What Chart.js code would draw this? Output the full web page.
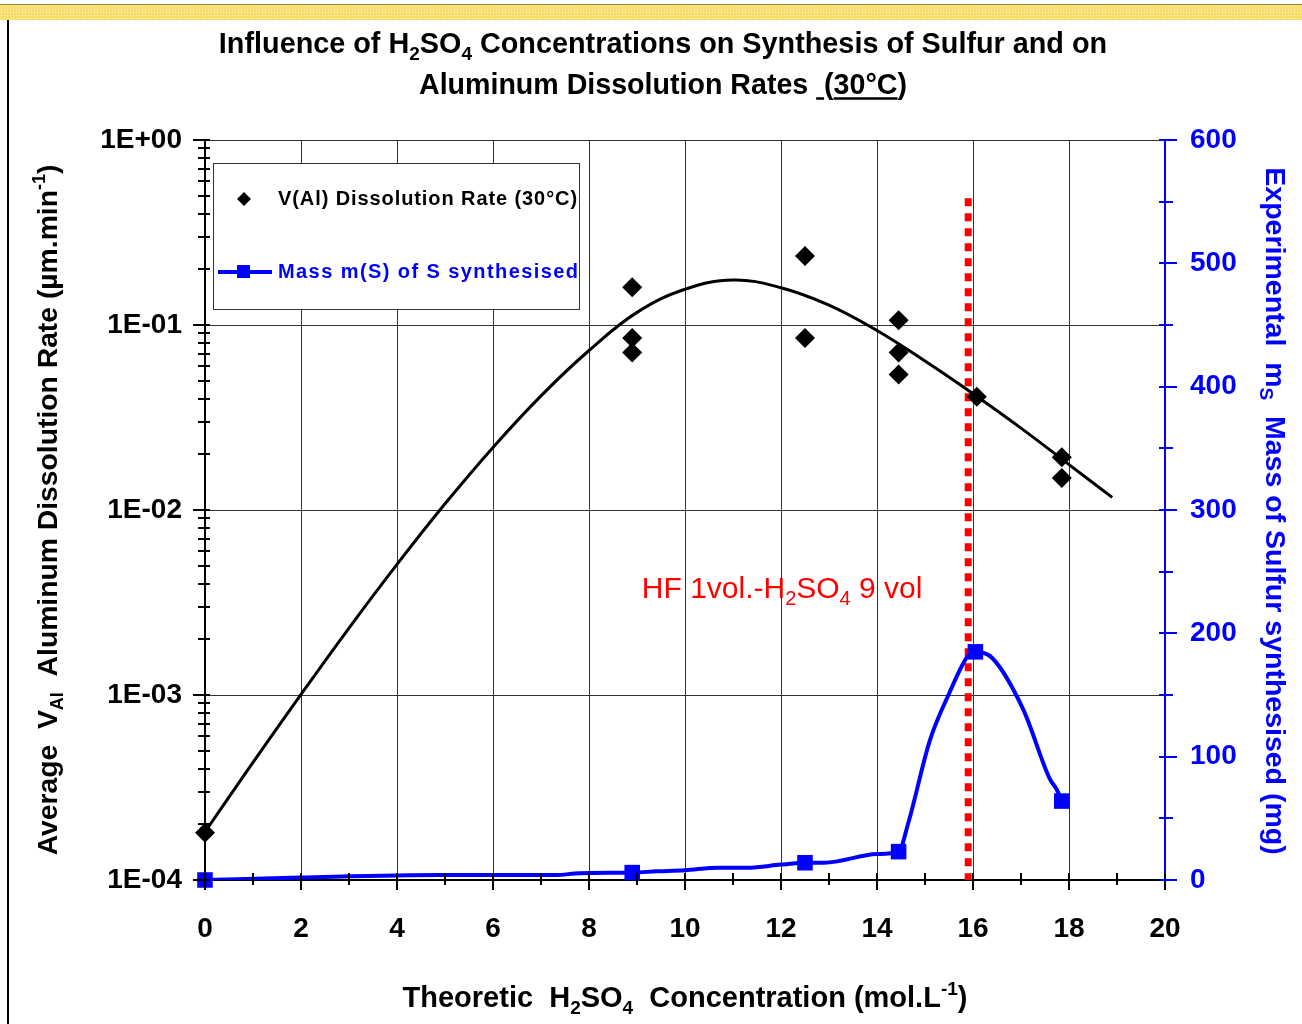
<!DOCTYPE html>
<html>
<head>
<meta charset="utf-8">
<title>H2SO4 concentration vs Al dissolution and S synthesis</title>
<script src="https://cdn.jsdelivr.net/npm/chart.js@4.4.1/dist/chart.umd.min.js"></script>
<style>
  html, body { margin: 0; padding: 0; background: #fff; }
  #wrap { position: relative; width: 1302px; height: 1024px; overflow: hidden; }
  #band { position: absolute; left: 0; top: 4px; width: 1302px; height: 15px; border-top: 1px solid #9a8a3a;
          background-color: #f6da66; background-image: radial-gradient(#fff0a8 0.8px, transparent 1.1px); background-size: 3px 3px; }
  #edge { position: absolute; left: 7px; top: 20px; width: 2px; height: 1004px; background: #000; }
  canvas { position: absolute; left: 0; top: 0; }
</style>
</head>
<body>
<div id="wrap">
  <div id="band"></div>
  <div id="edge"></div>
  <canvas id="chart" width="1302" height="1024"></canvas>
</div>
<script>
const FONT = "'Liberation Sans', Arial, sans-serif";

// measured Al dissolution rates (um/min), left log axis
const rateX = [0, 8.9, 8.9, 8.9, 12.5, 12.5, 14.45, 14.45, 14.45, 16.08, 17.85, 17.85];
const rateY = [1.8e-4, 0.16, 0.085, 0.071, 0.236, 0.085, 0.106, 0.071, 0.054, 0.041, 0.0193, 0.0149];

// trend curve through the rates
const fitX = [0, 1, 2, 3, 4, 5, 6, 7, 8, 9, 10, 11, 12, 13, 14, 15, 16, 17, 18, 18.9];
const fitY = [1.82e-4, 4.32e-4, 1.007e-3, 2.30e-3, 5.08e-3, 0.0108, 0.0218, 0.0414, 0.0728, 0.117,
              0.156, 0.175, 0.159, 0.128, 0.0933, 0.0638, 0.0425, 0.0277, 0.0176, 0.0117];

// mass of sulfur synthesised (mg), right axis
const massX = [0, 8.9, 12.5, 14.45, 16.05, 17.85];
const massY = [0, 6, 14, 23, 185, 64];

// the smoothed blue line has more points than the markers
const massLineX = [0, 2, 4.9, 7.3, 7.8, 8.9, 9.4, 10.0, 10.7, 11.3, 12.0, 12.5, 12.9, 14.0, 14.45,
                   14.65, 15.1, 15.5, 15.9, 16.05, 16.4, 17.05, 17.6, 17.75, 17.85];
const massLineY = [0, 2, 4, 4, 5.5, 6, 7, 8, 10, 10, 12.5, 14, 14, 21, 23,
                   46, 113, 151, 182, 185, 180, 138, 82, 73, 64];

// HF 1 vol - H2SO4 9 vol marker
const hfX = [15.9, 15.9];
const hfY = [0.485, 1e-4];

const xTicks = [0, 2, 4, 6, 8, 10, 12, 14, 16, 18, 20];

const toPts = (xs, ys) => xs.map((x, i) => ({ x: x, y: ys[i] }));
const isDecade = v => Math.abs(Math.log10(v) - Math.round(Math.log10(v))) < 1e-6;
const intMantissa = v => {
  const m = v / Math.pow(10, Math.floor(Math.log10(v) + 1e-9));
  return Math.abs(m - Math.round(m)) < 1e-6;
};
const sciLabel = v => {
  const e = Math.round(Math.log10(v));
  return '1E' + (e < 0 ? '-' : '+') + String(Math.abs(e)).padStart(2, '0');
};

// text with sub/superscripts, y is the middle of the capitals
function richText(ctx, parts, x, y, o) {
  const size = o.size, weight = o.weight || 'bold';
  const fontFor = k => weight + ' ' + (k === 'sub' || k === 'sup' ? Math.round(size * 0.65) : size) + 'px ' + FONT;
  let total = 0;
  parts.forEach(([t, k]) => { ctx.font = fontFor(k); total += ctx.measureText(t).width; });
  let cx = o.align === 'center' ? x - total / 2 : (o.align === 'right' ? x - total : x);
  const base = y + size * 0.358;
  ctx.textAlign = 'left';
  ctx.textBaseline = 'alphabetic';
  ctx.fillStyle = o.color;
  parts.forEach(([t, k]) => {
    ctx.font = fontFor(k);
    const dy = k === 'sub' ? size * 0.22 : (k === 'sup' ? -size * 0.42 : 0);
    ctx.fillText(t, cx, base + dy);
    const w = ctx.measureText(t).width;
    if (k === 'u') ctx.fillRect(cx, base + 3, w, 2.5);
    cx += w;
  });
}

function seg(ctx, x1, y1, x2, y2) {
  ctx.beginPath();
  ctx.moveTo(x1, y1);
  ctx.lineTo(x2, y2);
  ctx.stroke();
}

const decorations = {
  id: 'decorations',
  afterDraw(chart) {
    const ctx = chart.ctx;
    const { x, y, y2 } = chart.scales;
    ctx.save();

    // tick marks
    ctx.lineWidth = 2;
    ctx.strokeStyle = '#000';
    x.ticks.forEach(t => {
      const px = Math.round(x.getPixelForValue(t.value));
      if (t.value % 2 === 0) seg(ctx, px, x.top - 7, px, x.top + 10);
      else seg(ctx, px, x.top - 7, px, x.top + 5);
    });
    y.ticks.forEach(t => {
      const py = Math.round(y.getPixelForValue(t.value));
      seg(ctx, y.right - (isDecade(t.value) ? 12 : 7), py, y.right + 5, py);
    });
    ctx.strokeStyle = '#0000ff';
    y2.ticks.forEach(t => {
      const py = Math.round(y2.getPixelForValue(t.value));
      seg(ctx, y2.left - 6, py, y2.left + (t.value % 100 === 0 ? 12 : 8), py);
    });

    // title
    richText(ctx, [['Influence of H', ''], ['2', 'sub'], ['SO', ''], ['4', 'sub'],
      [' Concentrations on Synthesis of Sulfur and on', '']], 663, 43, { size: 28.8, color: '#000', align: 'center' });
    richText(ctx, [['Aluminum Dissolution Rates ', ''], [' ', 'u'], ['(', ''], ['30°C', 'u'], [')', '']],
      663, 84, { size: 28.6, color: '#000', align: 'center' });

    // axis titles
    richText(ctx, [['Theoretic  H', ''], ['2', 'sub'], ['SO', ''], ['4', 'sub'],
      ['  Concentration (mol.L', ''], ['-1', 'sup'], [')', '']], 685, 997, { size: 29, color: '#000', align: 'center' });

    ctx.save();
    ctx.translate(47, 510);
    ctx.rotate(-Math.PI / 2);
    richText(ctx, [['Average  V', ''], ['Al', 'sub'], ['  Aluminum Dissolution Rate (µm.min', ''], ['-1', 'sup'], [')', '']],
      0, 0, { size: 28.3, color: '#000', align: 'center' });
    ctx.restore();

    ctx.save();
    ctx.translate(1276, 511);
    ctx.rotate(Math.PI / 2);
    richText(ctx, [['Experimental  m', ''], ['S', 'sub'], ['  Mass of Sulfur synthesised (mg)', '']],
      0, 0, { size: 28.5, color: '#0000ff', align: 'center' });
    ctx.restore();

    // red annotation
    richText(ctx, [['HF 1vol.-H', ''], ['2', 'sub'], ['SO', ''], ['4', 'sub'], [' 9 vol', '']],
      x.getPixelForValue(9.1), y.getPixelForValue(0.0038), { size: 30, weight: 'normal', color: '#ff0000', align: 'left' });

    // legend
    ctx.fillStyle = '#fff';
    ctx.fillRect(213, 163, 367, 147);
    ctx.lineWidth = 1;
    ctx.strokeStyle = '#333';
    ctx.strokeRect(213.5, 163.5, 366, 146);

    ctx.fillStyle = '#000';
    ctx.beginPath();
    ctx.moveTo(244, 192); ctx.lineTo(251, 199); ctx.lineTo(244, 206); ctx.lineTo(237, 199);
    ctx.closePath();
    ctx.fill();

    ctx.strokeStyle = '#0000ff';
    ctx.lineWidth = 4;
    seg(ctx, 218, 272, 272, 272);
    ctx.fillStyle = '#0000ff';
    ctx.fillRect(237, 265, 13, 13);

    const legendText = (txt, color, yy, target) => {
      ctx.font = 'bold 20px ' + FONT;
      ctx.letterSpacing = '0px';
      const w = ctx.measureText(txt).width;
      const sp = Math.max(0, (target - w) / (txt.length - 1));
      ctx.letterSpacing = sp.toFixed(2) + 'px';
      ctx.fillStyle = color;
      ctx.textAlign = 'left';
      ctx.textBaseline = 'middle';
      ctx.fillText(txt, 278, yy);
      ctx.letterSpacing = '0px';
    };
    legendText('V(Al) Dissolution Rate (30°C)', '#000', 199, 299);
    legendText('Mass m(S) of S synthesised', '#0000ff', 272, 300);

    ctx.restore();
  }
};

const tickFont = { family: FONT, size: 28, weight: 'bold' };

new Chart(document.getElementById('chart'), {
  type: 'scatter',
  data: {
    datasets: [
      {
        label: 'V(Al) Dissolution Rate (30°C)',
        data: toPts(rateX, rateY),
        yAxisID: 'y',
        pointStyle: 'rectRot',
        pointRadius: 10,
        backgroundColor: '#000',
        borderColor: '#000',
        borderWidth: 0,
        clip: false,
        order: 0
      },
      {
        label: 'Mass m(S) of S synthesised',
        data: toPts(massX, massY),
        yAxisID: 'y2',
        pointStyle: 'rect',
        pointRadius: 11,
        backgroundColor: '#0000ff',
        borderColor: '#0000ff',
        borderWidth: 0,
        clip: false,
        order: 1
      },
      {
        label: 'mass line',
        data: toPts(massLineX, massLineY),
        yAxisID: 'y2',
        showLine: true,
        borderColor: '#0000ff',
        borderWidth: 4,
        pointRadius: 0,
        cubicInterpolationMode: 'monotone',
        order: 2
      },
      {
        label: 'HF 1vol.-H2SO4 9 vol',
        data: toPts(hfX, hfY),
        yAxisID: 'y',
        showLine: true,
        borderColor: '#ff0000',
        borderWidth: 7,
        borderDash: [8, 7],
        borderCapStyle: 'butt',
        pointRadius: 0,
        order: 3
      },
      {
        label: 'trend',
        data: toPts(fitX, fitY),
        yAxisID: 'y',
        showLine: true,
        borderColor: '#000',
        borderWidth: 3,
        pointRadius: 0,
        tension: 0.4,
        order: 4
      }
    ]
  },
  options: {
    responsive: false,
    animation: false,
    devicePixelRatio: 1,
    layout: { padding: { top: 140, left: 0, right: 0, bottom: 0 } },
    plugins: {
      legend: { display: false },
      tooltip: { enabled: false },
      title: { display: false }
    },
    scales: {
      x: {
        type: 'linear',
        min: 0,
        max: 20,
        afterFit: s => { s.height = 144; },
        ticks: {
          stepSize: 1,
          autoSkip: false,
          maxRotation: 0,
          padding: 32,
          color: '#000',
          font: tickFont,
          callback: v => xTicks.includes(v) ? String(v) : ''
        },
        grid: {
          drawTicks: false,
          lineWidth: 1,
          color: c => (c.tick && c.tick.value % 2 === 0 && c.tick.value > 0 && c.tick.value < 20) ? '#333' : 'rgba(0,0,0,0)'
        },
        border: { color: '#000', width: 2 }
      },
      y: {
        type: 'logarithmic',
        position: 'left',
        min: 1e-4,
        max: 1,
        afterFit: s => { s.width = 205; },
        afterBuildTicks: s => { s.ticks = s.ticks.filter(t => intMantissa(t.value)); },
        ticks: {
          autoSkip: false,
          padding: 23,
          color: '#000',
          font: tickFont,
          callback: v => isDecade(v) ? sciLabel(v) : ''
        },
        grid: {
          drawTicks: false,
          lineWidth: 1,
          color: c => (c.tick && isDecade(c.tick.value) && c.tick.value > 1.5e-4) ? '#333' : 'rgba(0,0,0,0)'
        },
        border: { color: '#000', width: 2 }
      },
      y2: {
        type: 'linear',
        position: 'right',
        min: 0,
        max: 600,
        afterFit: s => { s.width = 137; },
        ticks: {
          stepSize: 50,
          autoSkip: false,
          padding: 25,
          color: '#0000ff',
          font: tickFont,
          callback: v => v % 100 === 0 ? String(v) : ''
        },
        grid: { drawOnChartArea: false, drawTicks: false },
        border: { color: '#0000ff', width: 2 }
      }
    }
  },
  plugins: [decorations]
});
</script>
</body>
</html>
